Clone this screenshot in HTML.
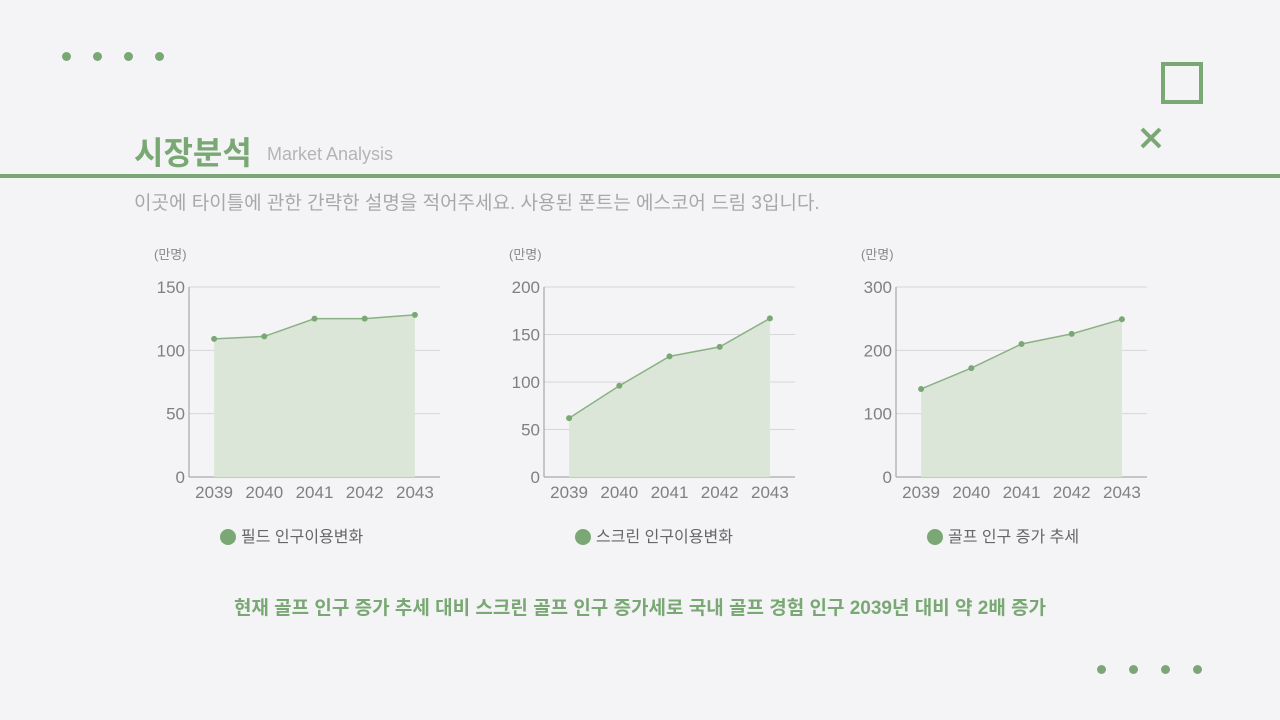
<!DOCTYPE html>
<html><head><meta charset="utf-8"><style>
body{margin:0;width:1280px;height:720px;background:#f4f4f6;position:relative;overflow:hidden;font-family:"Liberation Sans","Noto Sans CJK KR",sans-serif;}
.dot{position:absolute;width:9px;height:9px;border-radius:50%;background:#7aa874;}
.abs{position:absolute;}
</style></head><body>
<div>
<div class="dot" style="left:62px;top:52px"></div><div class="dot" style="left:93px;top:52px"></div><div class="dot" style="left:124px;top:52px"></div><div class="dot" style="left:155px;top:52px"></div></div>
<div>
<div class="dot" style="left:1097px;top:665px"></div><div class="dot" style="left:1129px;top:665px"></div><div class="dot" style="left:1161px;top:665px"></div><div class="dot" style="left:1193px;top:665px"></div></div>
<div class="abs" style="left:1161px;top:62px;width:34px;height:34px;border:4px solid #7aa874;"></div>
<svg class="abs" style="left:1140px;top:127px" width="22" height="22"><path d="M2,2 L20,20 M20,2 L2,20" stroke="#7aa874" stroke-width="4"/></svg>
<div class="abs" style="left:134px;top:128px;font-size:32px;font-weight:bold;color:#7aa874;">시장분석</div>
<div class="abs" style="left:267px;top:144px;font-size:18px;color:#b4b4b8;">Market Analysis</div>
<div class="abs" style="left:0;top:174px;width:1280px;height:4px;background:#7aa874;"></div>
<div class="abs" style="left:134px;top:188px;font-size:19px;color:#a8a8ac;">이곳에 타이틀에 관한 간략한 설명을 적어주세요. 사용된 폰트는 에스코어 드림 3입니다.</div>
<div class="abs" style="left:0;width:1280px;text-align:center;top:593px;font-size:19px;font-weight:bold;color:#7aa874;">현재 골프 인구 증가 추세 대비 스크린 골프 인구 증가세로 국내 골프 경험 인구 2039년 대비 약 2배 증가</div>
<svg id="svg" width="1280" height="720" class="abs" style="left:0;top:0" xmlns="http://www.w3.org/2000/svg"></svg>
<script>
const categories=["2039","2040","2041","2042","2043"];
const seriesField=[109,111,125,125,128];
const seriesScreen=[62,96,127,137,167];
const seriesGolf=[139,172,210,226,249];
const ticksField=[0,50,100,150];
const ticksScreen=[0,50,100,150,200];
const ticksGolf=[0,100,200,300];
const legends=["필드 인구이용변화","스크린 인구이용변화","골프 인구 증가 추세"];
const svg=document.getElementById('svg');
const NS='http://www.w3.org/2000/svg';
function mk(t,a,p){const e=document.createElementNS(NS,t);for(const k in a)e.setAttribute(k,a[k]);(p||svg).appendChild(e);return e;}
function chart(x0,data,ticks,legend,name){
  const g=mk('g',{});
  
  
  const w=251,top=287,bot=477,max=ticks[ticks.length-1];
  const bw=w/categories.length;
  const xs=i=>x0+bw*(i+0.5), ys=v=>bot-(v/max)*(bot-top);
  ticks.forEach(t=>{
    const l=mk('line',{x1:x0,x2:x0+w,y1:ys(t),y2:ys(t),stroke:t===0?'#999':'#d6d6d8','stroke-width':1},g);
    
    
    const tx=mk('text',{x:x0-4,y:ys(t)+6,'text-anchor':'end','font-size':17,fill:'#808080','font-family':'Liberation Sans,sans-serif'},g);tx.textContent=t;
    
    
  });
  mk('line',{x1:x0,x2:x0,y1:top,y2:bot,stroke:'#999'},g);
  const u=mk('text',{x:x0-35,y:259,'font-size':13,fill:'#888','font-family':'Liberation Sans,Noto Sans CJK KR,sans-serif'},g);u.textContent='(만명)';
  
  
  let d='M'+xs(0)+','+bot;data.forEach((v,i)=>d+=' L'+xs(i)+','+ys(v));d+=' L'+xs(data.length-1)+','+bot+'Z';
  const a=mk('path',{d:d,fill:'#dbe6d8'},g);
  
  
  const pl=mk('polyline',{points:data.map((v,i)=>xs(i)+','+ys(v)).join(' '),fill:'none',stroke:'#8ab284','stroke-width':1.5},g);
  
  
  data.forEach((v,i)=>{const c=mk('circle',{cx:xs(i),cy:ys(v),r:3,fill:'#7aa874'},g);
    
    });
  categories.forEach((c,i)=>{const t=mk('text',{x:xs(i),y:498,'text-anchor':'middle','font-size':17,fill:'#808080','font-family':'Liberation Sans,sans-serif'},g);t.textContent=c;
    
    });
  const lc=mk('circle',{cx:x0+39,cy:537,r:8,fill:'#7aa874'},g);
  
  
  const lt=mk('text',{x:x0+52,y:542,'font-size':16,fill:'#666','font-family':'Liberation Sans,Noto Sans CJK KR,sans-serif'},g);lt.textContent=legend;
  
  
}
chart(189,seriesField,ticksField,legends[0],'chart-field');
chart(544,seriesScreen,ticksScreen,legends[1],'chart-screen');
chart(896,seriesGolf,ticksGolf,legends[2],'chart-golf');
</script>
</body></html>
